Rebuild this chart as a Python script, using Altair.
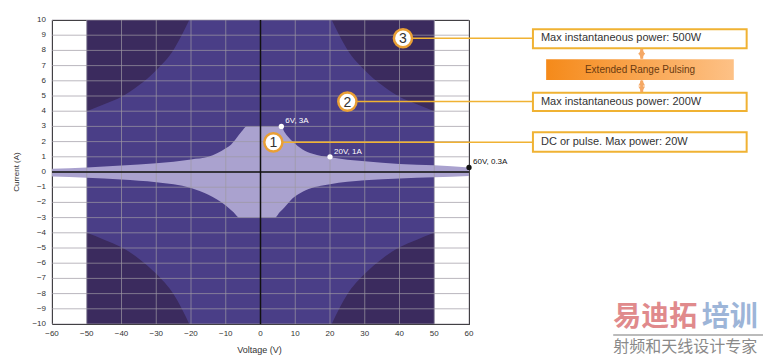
import altair as alt
import pandas as pd

# ---------------- data ----------------
v_ticks = list(range(-60, 61, 10))
i_ticks = list(range(-10, 11, 1))
v_labels = [("\u2212" + str(-v)) if v < 0 else str(v) for v in v_ticks]
i_labels = [("\u2212" + str(-i)) if i < 0 else str(i) for i in i_ticks]

# 200 W (mid purple) operating window
mid_v = [-50, 50]
mid_i = [-10, 10]

# dark region boundary in the positive quadrant (mirrored to the others)
dark_v = [20.5, 25, 30, 35, 40, 45, 50]
dark_i = [10.0, 8.05, 6.7, 5.7, 4.95, 4.45, 4.0]

# light (20 W DC) band, upper boundary
up_v = [-60, -50, -40, -30, -20, -15, -10, -8.5, -7, -5.5, -4, 6, 7, 8, 9.4, 12, 15, 20, 30, 40, 50, 60]
up_i = [0.22, 0.3, 0.42, 0.57, 0.83, 1.0, 1.56, 1.8, 2.2, 2.65, 3.0, 3.0, 2.6, 2.3, 1.97, 1.5, 1.2, 0.97, 0.7, 0.53, 0.44, 0.3]
# light band, lower boundary
lo_v = [-60, -50, -40, -30, -20, -15, -10, -8, -6, 4.2, 5.5, 7, 8.5, 10, 13, 20, 30, 40, 50, 60]
lo_i = [-0.3, -0.38, -0.5, -0.68, -1.05, -1.5, -2.2, -2.6, -3.0, -3.0, -2.65, -2.3, -1.9, -1.6, -1.2, -0.8, -0.55, -0.42, -0.35, -0.26]

pt_v = [6, 20, 60]
pt_i = [3, 1, 0.3]
pt_label = ["6V, 3A", "20V, 1A", "60V, 0.3A"]
pt_kind = ["w", "w", "k"]

# numbered callouts
call_num = ["1", "2", "3"]
call_v = [3.7, 25, 41]
call_i = [1.95, 4.63, 8.8]
box_text = ["DC or pulse. Max power: 20W",
            "Max instantaneous power: 200W",
            "Max instantaneous power: 500W"]
box_i0 = [1.34, 4.01, 8.14]
box_i1 = [2.61, 5.22, 9.39]
box_v0, box_v1 = 78.4, 139.9

pulse_text = "Extended Range Pulsing"

# ---------------- tables ----------------
mid_df = pd.DataFrame({"v0": [mid_v[0]], "v1": [mid_v[1]], "i0": [mid_i[0]], "i1": [mid_i[1]]})

dark_rows = []
for q, sv, si in [("tr", 1, 1), ("tl", -1, 1), ("br", 1, -1), ("bl", -1, -1)]:
    for v, i in zip(dark_v, dark_i):
        dark_rows.append({"q": q, "v": sv * v, "i": si * i, "edge": si * 10})
dark_df = pd.DataFrame(dark_rows)

light_df = pd.concat([
    pd.DataFrame({"part": "up", "v": up_v, "i": up_i}),
    pd.DataFrame({"part": "lo", "v": lo_v, "i": lo_i}),
])
light_df["zero"] = 0

vt_df = pd.DataFrame({"v": v_ticks, "label": v_labels})
it_df = pd.DataFrame({"i": i_ticks, "label": i_labels})
pts_df = pd.DataFrame({"v": pt_v, "i": pt_i, "label": pt_label, "kind": pt_kind})
call_df = pd.DataFrame({"num": call_num, "v": call_v, "i": call_i,
                        "vb": [box_v0] * 3, "vb1": [box_v1] * 3, "text": box_text,
                        "i0": box_i0, "i1": box_i1})

XS = alt.Scale(domain=[-60, 60], nice=False)
YS = alt.Scale(domain=[-10, 10], nice=False)


def X(f):
    return alt.X(f, scale=XS, axis=None)


def Y(f):
    return alt.Y(f, scale=YS, axis=None)


FONT = "Liberation Sans"
LIGHT = "#aaa2cf"
MID = "#4a3e87"
DARK = "#3b2b5e"
ORANGE = "#f0b233"
GRID = "#9c98a2"
ARROW = "#f5a865"

mid = alt.Chart(mid_df).mark_rect(color=MID).encode(
    x=X("v0:Q"), x2="v1", y=Y("i0:Q"), y2="i1")

dark = alt.Chart(dark_df).mark_area(color=DARK, interpolate="monotone").encode(
    x=X("v:Q"), y=Y("i:Q"), y2="edge", detail="q:N")

light = alt.Chart(light_df).mark_area(color=LIGHT, interpolate="monotone").encode(
    x=X("v:Q"), y=Y("i:Q"), y2="zero", detail="part:N")

gridv = alt.Chart(vt_df).mark_rule(color=GRID, opacity=0.7, strokeWidth=1).encode(x=X("v:Q"))
gridh = alt.Chart(it_df).mark_rule(color=GRID, opacity=0.7, strokeWidth=1).encode(y=Y("i:Q"))

# tick labels and axis titles
vt_df["bottom"] = -10
it_df["left"] = -60
xlab = alt.Chart(vt_df).mark_text(fontSize=8, font=FONT, color="#333", baseline="middle", dy=10).encode(
    x=X("v:Q"), y=Y("bottom:Q"), text="label:N")
ylab = alt.Chart(it_df).mark_text(fontSize=8, font=FONT, color="#333", baseline="middle", align="right", dx=-6).encode(
    x=X("left:Q"), y=Y("i:Q"), text="label:N")

titles_df = pd.DataFrame({"t": ["Voltage (V)", "Current (A)"], "x": [0, -60], "y": [-10, 0]})
xtitle = alt.Chart(titles_df.iloc[[0]]).mark_text(
    fontSize=9, font=FONT, color="#333", baseline="middle", dy=26, dx=-1).encode(
    x=X("x:Q"), y=Y("y:Q"), text="t:N")
ytitle = alt.Chart(titles_df.iloc[[1]]).mark_text(
    fontSize=8, font=FONT, color="#333", baseline="middle", angle=270, dy=-35).encode(
    x=X("x:Q"), y=Y("y:Q"), text="t:N")

zero_v = alt.Chart(pd.DataFrame({"v": [0]})).mark_rule(color="#111", strokeWidth=1.5).encode(x=X("v:Q"))
zero_i = alt.Chart(pd.DataFrame({"i": [0]})).mark_rule(color="#111", strokeWidth=1.5).encode(y=Y("i:Q"))

pts = alt.Chart(pts_df).mark_circle(size=28, opacity=1).encode(
    x=X("v:Q"), y=Y("i:Q"),
    color=alt.Color("kind:N", scale=alt.Scale(domain=["w", "k"], range=["#ffffff", "#111111"]), legend=None))
pts_lab = alt.Chart(pts_df).mark_text(align="left", baseline="middle", dx=4, dy=-5, fontSize=8, font=FONT).encode(
    x=X("v:Q"), y=Y("i:Q"), text="label:N",
    color=alt.Color("kind:N", scale=alt.Scale(domain=["w", "k"], range=["#ffffff", "#222222"]), legend=None))

leaders = alt.Chart(call_df).mark_rule(color=ORANGE, strokeWidth=1.5).encode(
    x=X("v:Q"), x2="vb", y=Y("i:Q"))
circles = alt.Chart(call_df).mark_point(shape="circle", filled=False, fill="white", fillOpacity=1,
                                        stroke="#e99f35", strokeWidth=2.5, size=330, opacity=1).encode(
    x=X("v:Q"), y=Y("i:Q"))
nums = alt.Chart(call_df).mark_text(fontSize=14, color="#333", font=FONT, baseline="middle", dy=1).encode(
    x=X("v:Q"), y=Y("i:Q"), text="num:N")

boxes = alt.Chart(call_df).mark_rect(fill="white", stroke=ORANGE, strokeWidth=2).encode(
    x=X("vb:Q"), x2="vb1", y=Y("i0:Q"), y2="i1")
box_lab = alt.Chart(call_df).mark_text(align="left", baseline="middle", fontSize=11, color="#333",
                                       font=FONT, dx=8).encode(
    x=X("vb:Q"), y=Y("i:Q"), text="text:N")

pulse_df = pd.DataFrame({"t": [pulse_text], "x0": [82.2], "x1": [136.2], "y0": [6.05], "y1": [7.41],
                         "xc": [109.2], "yc": [6.73]})
pulse_box = alt.Chart(pulse_df).mark_rect(
    fill=alt.Gradient(gradient="linear", x1=0, x2=1, y1=0, y2=0,
                      stops=[alt.GradientStop(color="#f58a1a", offset=0),
                             alt.GradientStop(color="#fdc186", offset=1)])).encode(
    x=X("x0:Q"), x2="x1", y=Y("y0:Q"), y2="y1")
pulse_lab = alt.Chart(pulse_df).mark_text(
    fontSize=10, color="#6a3a10", font=FONT, baseline="middle").encode(
    x=X("xc:Q"), y=Y("yc:Q"), text="t:N")

arrow_df = pd.DataFrame({"x": [109.7, 109.7], "a0": [7.45, 5.25], "a1": [8.1, 6.02],
                         "up": [7.93, 5.88], "dn": [7.63, 5.43]})
arrow_shaft = alt.Chart(arrow_df).mark_rule(color=ARROW, strokeWidth=3).encode(
    x=X("x:Q"), y=Y("a0:Q"), y2="a1")
head_up = alt.Chart(arrow_df).mark_point(
    shape="triangle-up", filled=True, color=ARROW, size=45, opacity=1).encode(
    x=X("x:Q"), y=Y("up:Q"))
head_dn = alt.Chart(arrow_df).mark_point(
    shape="triangle-down", filled=True, color=ARROW, size=45, opacity=1).encode(
    x=X("x:Q"), y=Y("dn:Q"))

wm_df = pd.DataFrame({"t1": ["易迪拓"], "t2": ["培训"], "t3": ["射频和天线设计专家"],
                      "x1": [101.5], "x2": [127.0], "xe": [144.6], "y1": [-9.6], "yl": [-10.72], "y3": [-11.5]})
wm1 = alt.Chart(wm_df).mark_text(
    fontSize=28, fontWeight="bold", font="Noto Sans CJK SC", color="#e08a8c", align="left", baseline="middle").encode(
    x=X("x1:Q"), y=Y("y1:Q"), text="t1:N")
wm2 = alt.Chart(wm_df).mark_text(
    fontSize=28, fontWeight="bold", font="Noto Sans CJK SC", color="#9db5d8", align="left", baseline="middle").encode(
    x=X("x2:Q"), y=Y("y1:Q"), text="t2:N")
wm_line = alt.Chart(wm_df).mark_rule(color="#bbbbbb", strokeWidth=2).encode(
    x=X("x1:Q"), x2="xe", y=Y("yl:Q"))
wm3 = alt.Chart(wm_df).mark_text(
    fontSize=16, font="Noto Sans CJK SC", color="#8a8a8a", align="left", baseline="middle").encode(
    x=X("x1:Q"), y=Y("y3:Q"), text="t3:N")

chart = alt.layer(
    mid, dark, light, gridv, gridh, zero_v, zero_i,
    xlab, ylab, xtitle, ytitle,
    leaders, circles, nums, pts, pts_lab,
    boxes, box_lab, pulse_box, pulse_lab, arrow_shaft, head_up, head_dn,
    wm1, wm2, wm_line, wm3,
).properties(
    width=417, height=304,
    autosize=alt.AutoSizeParams(type="none"),
    padding={"left": 52, "top": 20, "right": 298, "bottom": 32},
    background="white",
).configure_view(stroke="#111", strokeWidth=1)

chart.save("out.html", embed_options={"renderer": "svg", "actions": False})
